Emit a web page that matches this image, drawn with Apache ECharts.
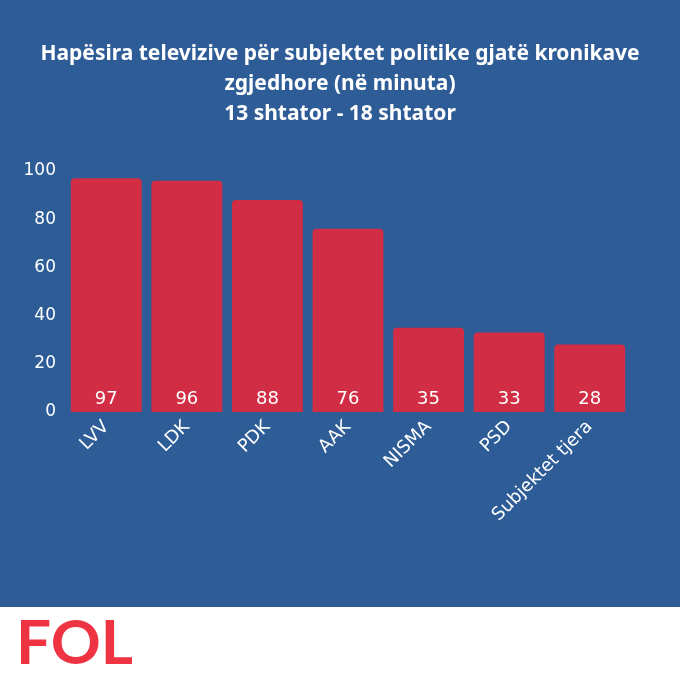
<!DOCTYPE html>
<html>
<head>
<meta charset="utf-8">
<script src="https://cdn.jsdelivr.net/npm/echarts@6/dist/echarts.min.js"></script>
<style>
  html, body { margin: 0; padding: 0; background: #fff; }
  #chart { width: 680px; height: 680px; }
</style>
</head>
<body>
<div id="chart"></div>
<script>
const parties = ['LVV', 'LDK', 'PDK', 'AAK', 'NISMA', 'PSD', 'Subjektet tjera']
const minutes = [97, 96, 88, 76, 35, 33, 28]
const yTicks = [0, 20, 40, 60, 80, 100]

const chart = echarts.init(document.getElementById('chart'))

const option = {
  backgroundColor: '#ffffff',
  animation: false,
  title: {
    text: 'Hapësira televizive për subjektet politike gjatë kronikave\nzgjedhore (në minuta)\n13 shtator - 18 shtator',
    left: 'center',
    top: 34,
    textStyle: {
      color: '#ffffff',
      fontFamily: 'Noto Sans',
      fontWeight: 'bold',
      fontSize: 21,
      lineHeight: 30,
      align: 'center'
    }
  },
  graphic: [
    {
      type: 'rect',
      z: -10,
      shape: { x: 0, y: 0, width: 680, height: 607 },
      style: { fill: '#2E5C96' }
    },
    {
      type: 'text',
      left: 16,
      top: 613,
      style: {
        text: 'FOL',
        fill: '#EE3342',
        font: 'bold 62px Lato'
      }
    }
  ],
  grid: { left: 66, right: 50, top: 171, bottom: 268 },
  xAxis: {
    type: 'category',
    data: parties,
    axisLine: { show: false },
    axisTick: { show: false },
    axisLabel: {
      color: '#ffffff',
      rotate: 45,
      fontSize: 18,
      fontFamily: 'DejaVu Sans',
      margin: 12
    }
  },
  yAxis: {
    type: 'value',
    min: 0,
    max: yTicks[yTicks.length - 1],
    interval: yTicks[1] - yTicks[0],
    splitLine: { show: false },
    axisLine: { show: false },
    axisTick: { show: false },
    axisLabel: {
      color: '#ffffff',
      fontSize: 17,
      fontFamily: 'DejaVu Sans',
      margin: 10
    }
  },
  series: [{
    type: 'bar',
    data: minutes,
    barCategoryGap: '12%',
    itemStyle: { color: '#D12D45', borderRadius: [4, 4, 0, 0] },
    label: {
      show: true,
      position: 'insideBottom',
      distance: 4,
      color: '#ffffff',
      fontSize: 18,
      fontFamily: 'DejaVu Sans'
    }
  }]
}

chart.setOption(option)
</script>
</body>
</html>
